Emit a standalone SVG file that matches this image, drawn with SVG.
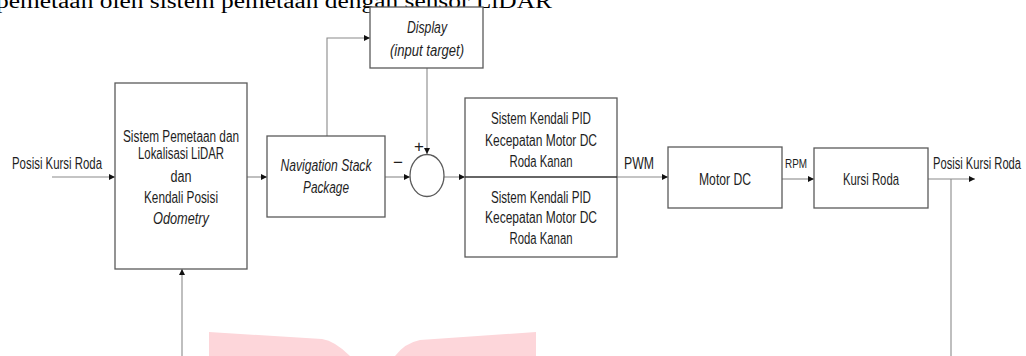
<svg xmlns="http://www.w3.org/2000/svg" width="1026" height="356" viewBox="0 0 1026 356">
<defs>
<marker id="ah" markerUnits="userSpaceOnUse" markerWidth="7" markerHeight="6" refX="6" refY="3" orient="auto">
<path d="M0,0 L6,3 L0,6 z" fill="#111"/>
</marker>
<style>
.box{fill:#fff;stroke:#5a5a5a;stroke-width:1.3}
.con{fill:none;stroke:#8a8a8a;stroke-width:1.1}
.dark{fill:none;stroke:#333;stroke-width:1.3}
.t{font-family:"Liberation Sans",Arial,sans-serif;font-size:16px;fill:#1e1e1e;text-anchor:middle}
.i{font-style:italic}
.s17{font-size:17px}
.s13{font-size:13px}
.wm{fill:#fdd6da}
</style>
</defs>
<rect width="1026" height="356" fill="#fff"/>
<text x="-4" y="7.5" font-family="Liberation Serif,Times New Roman,serif" font-size="20" fill="#000" textLength="556" lengthAdjust="spacingAndGlyphs">pemetaan oleh sistem pemetaan dengan sensor LiDAR</text>
<path class="wm" d="M209,332 L322,339 Q335,341 350,356 L209,356 Z"/>
<path class="wm" d="M395,356 Q405,343 420,340 L536,332 L536,356 Z"/>
<g id="connectors">
<line class="con" x1="52" y1="177" x2="115" y2="177" marker-end="url(#ah)"/>
<line class="con" x1="247" y1="177" x2="267" y2="177" marker-end="url(#ah)"/>
<polyline class="con" points="327,136 327,38 370,38" marker-end="url(#ah)"/>
<line class="con" x1="427" y1="68" x2="427" y2="154" marker-end="url(#ah)"/>
<line class="con" x1="385" y1="177" x2="410" y2="177" marker-end="url(#ah)"/>
<line class="con" x1="444" y1="177" x2="465" y2="177" marker-end="url(#ah)"/>
<line class="con" x1="617" y1="177" x2="668" y2="177" marker-end="url(#ah)"/>
<line class="con" x1="782" y1="179" x2="814" y2="179" marker-end="url(#ah)"/>
<line class="con" x1="928" y1="179" x2="975" y2="179" marker-end="url(#ah)"/>
<line class="con" x1="951" y1="179" x2="951" y2="356"/>
<line class="con" x1="182" y1="356" x2="182" y2="269" marker-end="url(#ah)"/>
<text class="t" x="57" y="169" textLength="90" lengthAdjust="spacingAndGlyphs">Posisi Kursi Roda</text>
<text class="t s17" x="419" y="152">+</text>
<text class="t s17" x="398" y="168">−</text>
<text class="t" x="639" y="169" textLength="30" lengthAdjust="spacingAndGlyphs">PWM</text>
<text class="t s13" x="796" y="168" textLength="22" lengthAdjust="spacingAndGlyphs">RPM</text>
<text class="t" x="977" y="169" textLength="88" lengthAdjust="spacingAndGlyphs">Posisi Kursi Roda</text>
</g>
<g id="lidar">
<rect class="box" x="115" y="83" width="132" height="186"/>
<text class="t" x="181" y="141.5" textLength="116" lengthAdjust="spacingAndGlyphs">Sistem Pemetaan dan</text>
<text class="t" x="181" y="158.5" textLength="86" lengthAdjust="spacingAndGlyphs">Lokalisasi LiDAR</text>
<text class="t" x="181" y="182" textLength="21" lengthAdjust="spacingAndGlyphs">dan</text>
<text class="t" x="181" y="202.5" textLength="74" lengthAdjust="spacingAndGlyphs">Kendali Posisi</text>
<text class="t i" x="181" y="223.5" textLength="56" lengthAdjust="spacingAndGlyphs">Odometry</text>
</g>
<g id="nav">
<rect class="box" x="267" y="136" width="118" height="81"/>
<text class="t i" x="326" y="170.5" textLength="91" lengthAdjust="spacingAndGlyphs">Navigation Stack</text>
<text class="t i" x="326" y="192.5" textLength="46" lengthAdjust="spacingAndGlyphs">Package</text>
</g>
<g id="display">
<rect class="box" x="370" y="7" width="113" height="61"/>
<text class="t i" x="427" y="32.5" textLength="40" lengthAdjust="spacingAndGlyphs">Display</text>
<text class="t i" x="427" y="55.5" textLength="74" lengthAdjust="spacingAndGlyphs">(input target)</text>
</g>
<g id="sum">
<ellipse cx="427" cy="175.5" rx="17" ry="21" fill="#fff" stroke="#5a5a5a" stroke-width="1.3"/>
</g>
<g id="pid">
<rect class="box" x="465" y="98" width="152" height="159"/>
<line class="dark" x1="465" y1="177" x2="617" y2="177"/>
<text class="t" x="541" y="124" textLength="100" lengthAdjust="spacingAndGlyphs">Sistem Kendali PID</text>
<text class="t" x="541" y="145.5" textLength="112" lengthAdjust="spacingAndGlyphs">Kecepatan Motor DC</text>
<text class="t" x="541" y="166.5" textLength="63" lengthAdjust="spacingAndGlyphs">Roda Kanan</text>
<text class="t" x="541" y="202.5" textLength="100" lengthAdjust="spacingAndGlyphs">Sistem Kendali PID</text>
<text class="t" x="541" y="223" textLength="112" lengthAdjust="spacingAndGlyphs">Kecepatan Motor DC</text>
<text class="t" x="541" y="244" textLength="63" lengthAdjust="spacingAndGlyphs">Roda Kanan</text>
</g>
<g id="motor">
<rect class="box" x="668" y="147" width="114" height="61"/>
<text class="t s17" x="725" y="185" textLength="52" lengthAdjust="spacingAndGlyphs">Motor DC</text>
</g>
<g id="kursi">
<rect class="box" x="814" y="148" width="114" height="60"/>
<text class="t s17" x="871" y="185" textLength="56" lengthAdjust="spacingAndGlyphs">Kursi Roda</text>
</g>
</svg>
